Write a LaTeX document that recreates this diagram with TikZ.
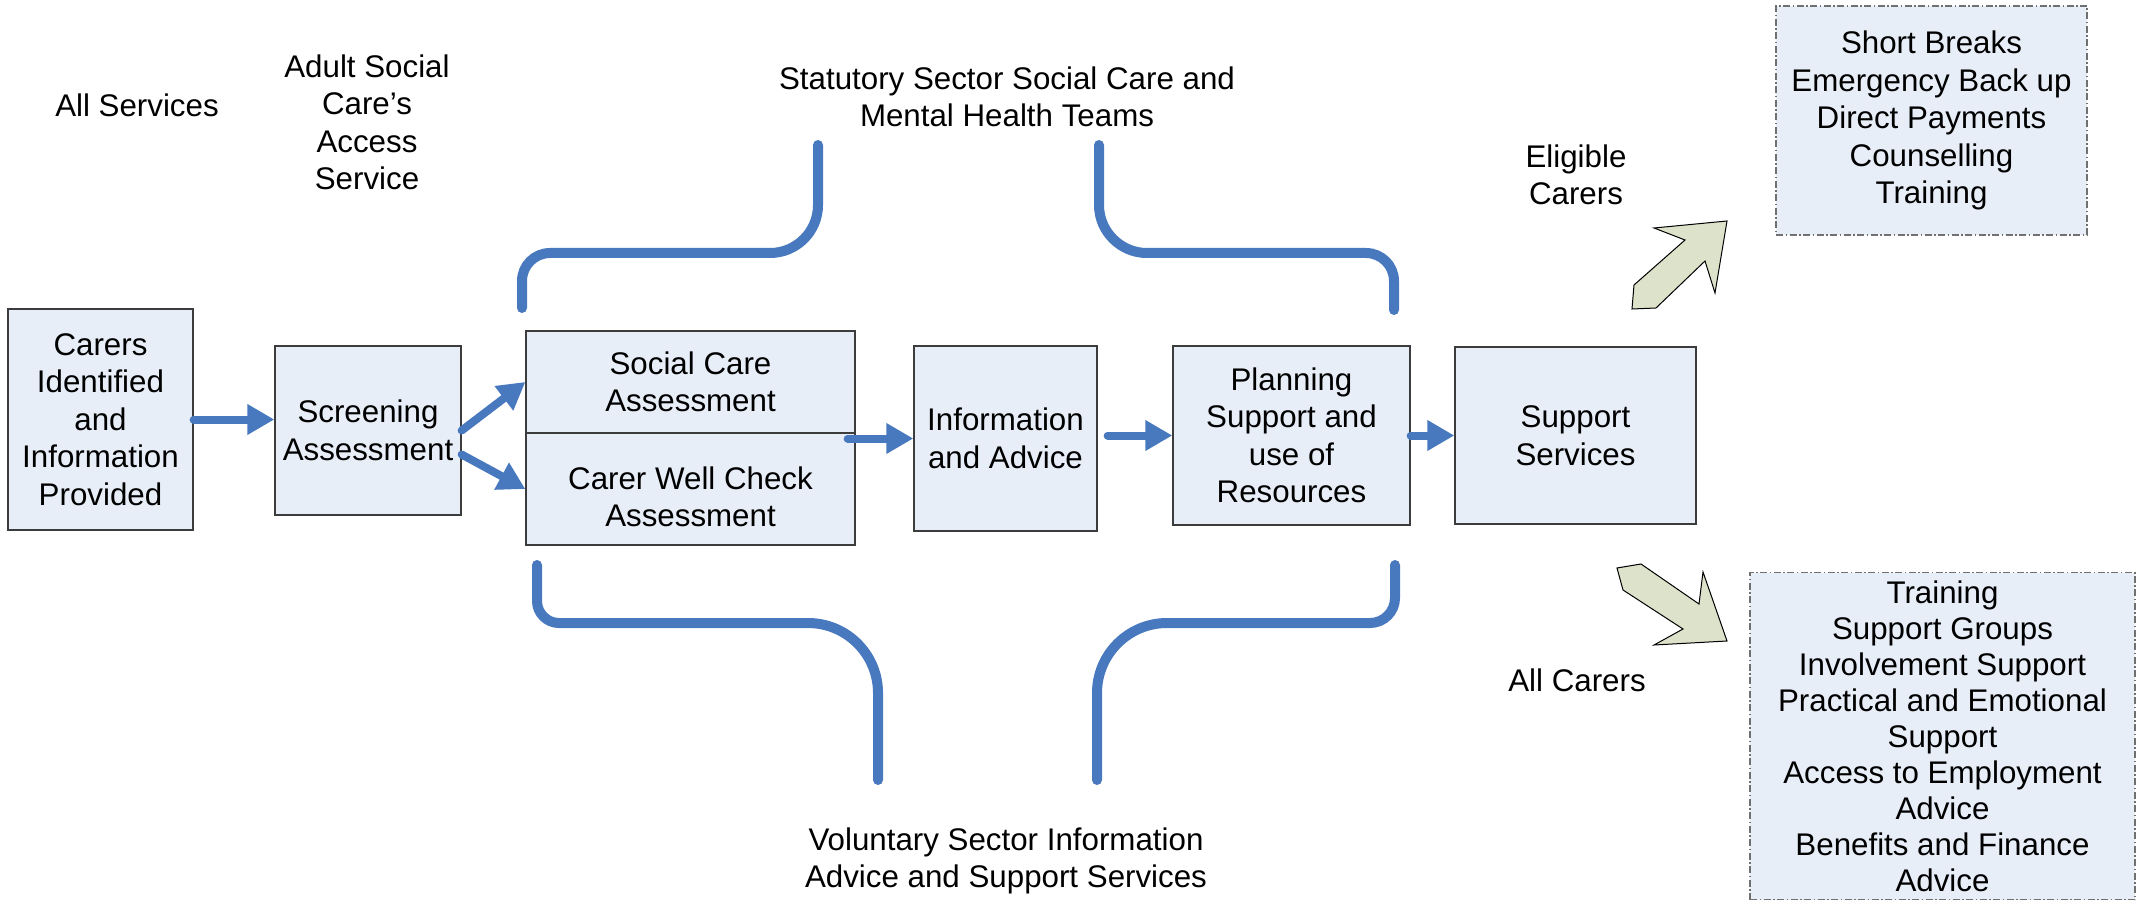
\documentclass[tikz,border=0pt]{standalone}
\usepackage{fontspec}
\setmainfont{Liberation Sans}
\usetikzlibrary{arrows.meta,calc}
\definecolor{flowBlue}{HTML}{4878BE}
\definecolor{boxFill}{HTML}{E7EEF8}
\definecolor{boxLine}{HTML}{3C3C3C}
\definecolor{dashLine}{HTML}{707070}
\definecolor{bigArrowFill}{HTML}{DDE2CA}
\newcommand{\diagfont}{\fontsize{31.3}{37.5}\selectfont}

\begin{document}
\begin{tikzpicture}
[x=1pt,y=-1pt,
  boxDecorate/.style={draw=boxLine,fill=boxFill,line width=1.3pt,inner sep=0pt,align=center,font=\diagfont},
  dashDecorate/.style={boxDecorate,draw=dashLine,line width=1.2pt,dash pattern=on 7pt off 2.5pt on 1.5pt off 2.5pt},
  labelDecorate/.style={align=center,font=\diagfont},
  arrowDecorate/.style={draw=flowBlue,line width=8pt,line cap=round,-{Triangle[length=27pt,width=29pt]}},
  braceDecorate/.style={draw=flowBlue,line width=10pt,line cap=round},
  bigArrowDecorate/.style={draw=black,line width=1pt,fill=bigArrowFill,line join=miter}]
\useasboundingbox (0,0) rectangle (2145,901);
\fill[white] (0,0) rectangle (2145,901);
%% process boxes
\foreach \nodename/\x/\y/\w/\h/\txt in {
  Carers/100.5/419.5/185/221/{Carers\\Identified\\and\\Information\\Provided},
  Screening/368/430.5/186/169/{Screening\\Assessment},
  SocialCare/690.5/382/329/102/{Social Care\\Assessment},
  CarerWell/690.5/489/329/112/{\rule{0pt}{38pt}Carer Well Check\\Assessment},
  Info/1005.5/438.5/183/185/{Information\\and Advice},
  Planning/1291.5/435.5/237/179/{Planning\\Support and\\use of\\Resources},
  Support/1575.5/435.5/241/177/{Support\\Services}}
{
  \node (\nodename) at (\x,\y) [boxDecorate,minimum width=\w pt,minimum height=\h pt] {\txt};
}
%% service lists
\node (eligibleList) at (1931.5,120.5) [dashDecorate,minimum width=311pt,minimum height=229pt]
  {Short Breaks\\Emergency Back up\\Direct Payments\\Counselling\\Training};
\node (allList) at (1942.5,736) [dashDecorate,minimum width=385pt,minimum height=327pt,font=\fontsize{31.3}{36}\selectfont]
  {Training\\Support Groups\\Involvement Support\\Practical and Emotional\\Support\\Access to Employment\\Advice\\Benefits and Finance\\Advice};
%% labels
\node (allServices) at (137,105) [labelDecorate] {All Services};
\node (adultAccess) at (367,122.5) [labelDecorate] {Adult Social\\Care’s\\Access\\Service};
\node (statutory) at (1007,97) [labelDecorate] {Statutory Sector Social Care and\\Mental Health Teams};
\node (voluntary) at (1006,861) [labelDecorate] {Voluntary Sector Information\\Advice and Support Services};
\node (eligible) at (1576,175) [labelDecorate] {Eligible\\Carers};
\node (allCarers) at (1577,680) [labelDecorate] {All Carers};
%% flow arrows
\coordinate (screenIn) at (Carers.east -| Screening.west);
\coordinate (screenLow) at ($(Screening.east)+(0,24)$);
\coordinate (assessOut) at ($(Info.west -| CarerWell.east)+(-8,0)$);
\coordinate (infoOut) at ($(Planning.west -| Info.east)+(10,0)$);
\path
\foreach \startnode/\endnode in {Carers.east/screenIn, Screening.east/SocialCare.west,
  screenLow/CarerWell.west, assessOut/Info.west, infoOut/Planning.west, Planning.east/Support.west}
{
  (\startnode) edge[arrowDecorate] (\endnode)
};
%% brackets
\draw[braceDecorate,rounded corners=28pt] (522,308) |- (660,253);
\draw[braceDecorate,rounded corners=48pt] (660,253) -| (818,145);
\draw[braceDecorate,rounded corners=48pt] (1099,145) |- (1240,253);
\draw[braceDecorate,rounded corners=28pt] (1240,253) -| (1394,310);
\draw[braceDecorate,rounded corners=22pt] (537,565) |- (700,623);
\draw[braceDecorate,rounded corners=70pt] (700,623) -| (878,780);
\draw[braceDecorate,rounded corners=70pt] (1097,780) |- (1250,623);
\draw[braceDecorate,rounded corners=25pt] (1250,623) -| (1395,565);
%% big arrows
\draw[bigArrowDecorate] (1727,221) -- (1654,228) -- (1685,240) -- (1634,285) -- (1632,309)
  -- (1656,308) -- (1705,261) -- (1715,293) -- cycle;
\draw[bigArrowDecorate] (1617,568) -- (1641,564) -- (1699,604) -- (1703,572) -- (1727,641)
  -- (1654,645) -- (1683,629) -- (1623,590) -- cycle;
\end{tikzpicture}
\end{document}
